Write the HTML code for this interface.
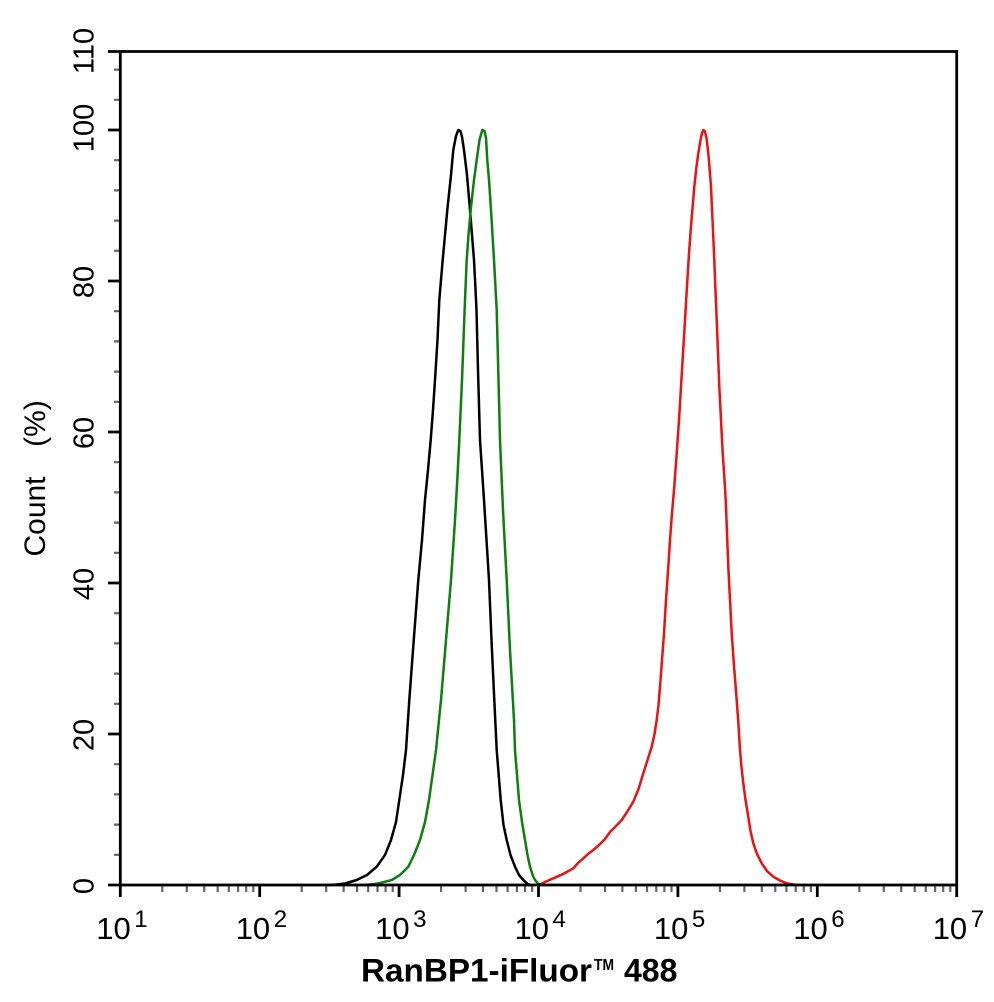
<!DOCTYPE html>
<html>
<head>
<meta charset="utf-8">
<style>
html,body{margin:0;padding:0;background:#fff;}
svg{display:block;}
text{font-family:"Liberation Sans",Arial,sans-serif;fill:#000;}
</style>
</head>
<body>
<svg width="994" height="1002" viewBox="0 0 994 1002" xmlns="http://www.w3.org/2000/svg">
<rect width="994" height="1002" fill="#fff"/>

<!-- minor x ticks -->
<path stroke="#666" stroke-width="2.2" fill="none" d="
M162.3 886V892 M186.8 886V892 M204.2 886V892 M217.7 886V892 M228.8 886V892 M238.1 886V892 M246.2 886V892 M253.3 886V892
M301.7 886V892 M326.2 886V892 M343.6 886V892 M357.1 886V892 M368.2 886V892 M377.5 886V892 M385.6 886V892 M392.7 886V892
M441.1 886V892 M465.6 886V892 M483.0 886V892 M496.5 886V892 M507.6 886V892 M516.9 886V892 M525.0 886V892 M532.1 886V892
M580.5 886V892 M605.0 886V892 M622.4 886V892 M635.9 886V892 M647.0 886V892 M656.3 886V892 M664.4 886V892 M671.5 886V892
M719.9 886V892 M744.4 886V892 M761.8 886V892 M775.3 886V892 M786.4 886V892 M795.7 886V892 M803.8 886V892 M810.9 886V892
M859.3 886V892 M883.8 886V892 M901.2 886V892 M914.7 886V892 M925.8 886V892 M935.1 886V892 M943.2 886V892 M950.3 886V892"/>

<!-- minor y ticks -->
<path stroke="#666" stroke-width="2.2" fill="none" d="
M114 854.8H119 M114 824.6H119 M114 794.4H119 M114 764.2H119
M114 703.8H119 M114 673.6H119 M114 643.4H119 M114 613.2H119
M114 552.8H119 M114 522.6H119 M114 492.4H119 M114 462.2H119
M114 401.8H119 M114 371.6H119 M114 341.4H119 M114 311.2H119
M114 250.8H119 M114 220.6H119 M114 190.4H119 M114 160.2H119
M114 99.8H119 M114 69.6H119"/>

<!-- major ticks -->
<path stroke="#000" stroke-width="2.8" fill="none" d="
M120.3 885V897 M259.7 885V897 M399.1 885V897 M538.5 885V897 M677.9 885V897 M817.3 885V897 M956.7 885V897
M108 885H120 M108 734H120 M108 583H120 M108 432H120 M108 281H120 M108 130H120 M108 51.5H120"/>

<!-- series -->
<polyline fill="none" stroke="#000" stroke-width="2.5" stroke-linejoin="round" stroke-linecap="round" points="
330,885 336.7,884.5 345,883.5 356.7,880 367,875 376.7,866.7 385,855 391,840 396,822 399.3,800 403,775 406,750 409.3,700 413,650 418.3,580 422,540 425,500 428,470 430.7,440 433,410 435,380 437.5,340 439.3,300 442.7,260 447.3,210 451,175 453.3,150 456,136 458.3,130 460.5,131 462,137 464,150 467,175 470,210 472,235 474,260 475.3,285 476.5,310 478,370 480,440 482,470 484,500 486.5,540 489,580 491.5,640 494.3,700 496.7,750 500.7,800 503.5,825 506.7,840 510.5,855 515,866.7 519,875 523.3,880 527,883.5 530,885"/>

<polyline fill="none" stroke="#0c800c" stroke-width="2.5" stroke-linejoin="round" stroke-linecap="round" points="
365,885 372,884.3 380,883 391.7,880 400,875 408.3,866.7 414,855 420,840 425,822 429,800 432.5,775 436,750 441,700 446,640 451,580 455,520 457.3,480 459.3,440 462,380 463.5,340 465,300 466.7,260 468.5,235 470.7,210 474,180 476.7,160 479.5,140 482.3,130 484.5,131 486,138 487.3,160 489,180 491,210 492.5,235 494,260 496.7,310 498.5,380 500,440 503,510 506.7,580 510,650 514,720 515,750 519,800 522,822 525,840 527.5,855 530,866.7 533,876 535,880 538,883.5 541,885"/>

<polyline fill="none" stroke="#f01010" stroke-width="2.5" stroke-linejoin="round" stroke-linecap="round" points="
540,884.5 546,881.5 553.3,878.3 563,874 573.3,868.3 578,863 583.3,858.3 588,854 593.3,850 599,845 605,839 610,832 616,826 621.7,820 627,812 633.3,801.7 638.5,789 643.3,773.3 647.5,760 651.7,746.7 654.5,734 656.7,720 658.5,705 660,686.7 662,660 664,633.3 666,600 668.3,566.7 670,540 671.7,516.7 674,490 676.7,453.3 679,420 681,386.7 683,353 685,320 687,286 689,253.3 691.5,220 694.3,186.7 696.3,168 698.3,153.3 700.5,140 702,133 703.3,130 704.8,131 706.5,138 708.3,153.3 709.7,170 711,186.7 712.5,220 714,253.3 715.3,286 716.7,320 718,353 719.3,386.7 721,420 722.7,453.3 724.2,475 725.7,500 727,533 728.3,566.7 730,600 731.7,633.3 734,666 736.7,700 738.5,725 740,750 741.5,767 743.3,783.3 745.5,800 748.3,816.7 750.5,831 753.3,843.3 757,854 761.7,863.3 767,871 773.3,876.7 780,880.5 786.7,883.3 796.7,885"/>

<!-- axes frame -->
<rect x="120.3" y="51.5" width="836.4" height="833.5" fill="none" stroke="#000" stroke-width="2.8"/>

<!-- y tick labels -->
<g font-size="29" text-anchor="middle">
<text transform="translate(93.5,886) rotate(-90)">0</text>
<text transform="translate(93.5,735) rotate(-90)">20</text>
<text transform="translate(93.5,584) rotate(-90)">40</text>
<text transform="translate(93.5,433) rotate(-90)">60</text>
<text transform="translate(93.5,282) rotate(-90)">80</text>
<text transform="translate(93.5,128) rotate(-90)">100</text>
<text transform="translate(93.5,51) rotate(-90)">110</text>
</g>

<!-- y title -->
<g font-size="30" text-anchor="middle">
<text transform="translate(45,516.5) rotate(-90)">Count</text>
<text transform="translate(45,423.5) rotate(-90)">(%)</text>
</g>

<!-- x tick labels -->
<g font-size="31">
<text x="96.3" y="939">10</text>
<text x="235.7" y="939">10</text>
<text x="375.1" y="939">10</text>
<text x="514.5" y="939">10</text>
<text x="653.9" y="939">10</text>
<text x="793.3" y="939">10</text>
<text x="932.7" y="939">10</text>
</g>
<g font-size="24">
<text x="134.3" y="927">1</text>
<text x="273.7" y="927">2</text>
<text x="413.1" y="927">3</text>
<text x="552.5" y="927">4</text>
<text x="691.9" y="927">5</text>
<text x="831.3" y="927">6</text>
<text x="970.7" y="927">7</text>
</g>

<!-- x title -->
<g font-weight="bold">
<text x="361" y="981.5" font-size="32" textLength="231" lengthAdjust="spacingAndGlyphs">RanBP1-iFluor</text>
<text x="594" y="970" font-size="16" textLength="20" lengthAdjust="spacingAndGlyphs">TM</text>
<text x="624" y="981.5" font-size="32">488</text>
</g>
</svg>
</body>
</html>
